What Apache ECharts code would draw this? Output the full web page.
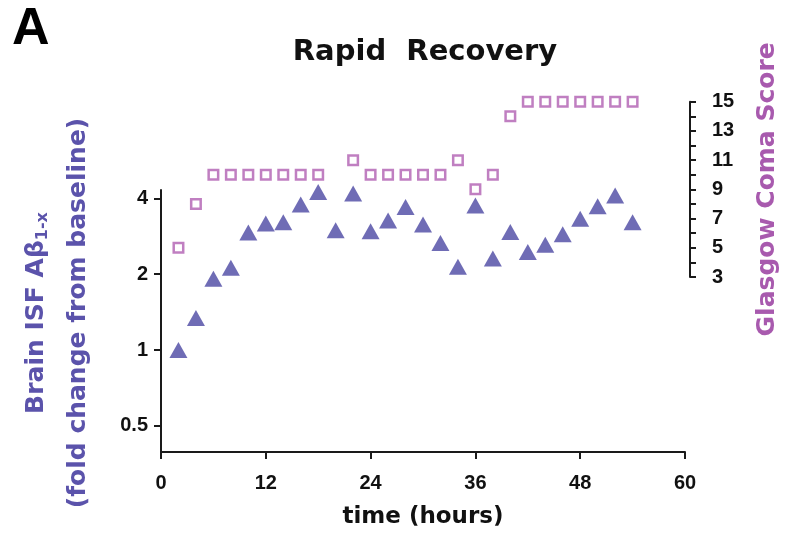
<!DOCTYPE html>
<html>
<head>
<meta charset="utf-8">
<script src="https://cdn.jsdelivr.net/npm/echarts@6/dist/echarts.min.js"></script>
<style>html,body{margin:0;padding:0;background:#fff;}#c{width:785px;height:535px;}</style>
</head>
<body>
<div id="c"></div>
<script>
// time points (hours)
var hours = [2, 4, 6, 8, 10, 12, 14, 16, 18, 20, 22, 24, 26, 28, 30, 32, 34, 36, 38, 40, 42, 44, 46, 48, 50, 52, 54];
// Brain ISF Abeta fold change from baseline
var abeta = [1.00, 1.34, 1.92, 2.12, 2.93, 3.18, 3.22, 3.78, 4.24, 2.99, 4.18, 2.96, 3.27, 3.70, 3.15, 2.66, 2.14, 3.75, 2.31, 2.94, 2.45, 2.62, 2.88, 3.32, 3.72, 4.11, 3.22];
// Glasgow Coma Score (null = not recorded)
var gcs = [5, 8, 10, 10, 10, 10, 10, 10, 10, null, 11, 10, 10, 10, 10, 10, 11, 9, 10, 14, 15, 15, 15, 15, 15, 15, 15];
// tick labels
var xTicks = [0, 12, 24, 36, 48, 60];
var leftTicks = [0.5, 1, 2, 4];
var rightTicks = [3, 5, 7, 9, 11, 13, 15];

var abetaData = hours.map(function (h, i) { return [h, abeta[i]]; });
var gcsData = [];
hours.forEach(function (h, i) { if (gcs[i] !== null) gcsData.push([h, gcs[i]]); });

var axisCol = '#1a1a1a';
var labelFont = {color: '#111', fontFamily: 'Liberation Sans', fontWeight: 'bold', fontSize: 20};

var chart = echarts.init(document.getElementById('c'));
chart.setOption({
  backgroundColor: '#fff',
  animation: false,
  title: {
    text: 'Rapid  Recovery',
    left: 420, top: 33, textAlign: 'center',
    textStyle: {fontFamily: 'DejaVu Sans', fontWeight: 'bold', fontSize: 29, color: '#111'}
  },
  graphic: [{
    type: 'text', left: 12, top: 4,
    style: {text: 'A', fontFamily: 'Liberation Sans', fontWeight: 'bold', fontSize: 52, fill: '#000'}
  }],
  grid: [
    {left: 161, right: 100, top: 190, bottom: 83, containLabel: false, outerBoundsMode: 'none'},
    {left: 161, right: 100, top: 101.7, height: 175.3, containLabel: false, outerBoundsMode: 'none'}
  ],
  xAxis: [{
    gridIndex: 0, type: 'value', min: 0, max: 60, interval: 12,
    name: 'time (hours)', nameLocation: 'middle', nameGap: 54,
    nameTextStyle: {fontFamily: 'DejaVu Sans', fontWeight: 'bold', fontSize: 23, color: '#111'},
    axisLine: {show: true, onZero: false, lineStyle: {color: axisCol, width: 2}},
    axisTick: {show: true, length: 7, lineStyle: {color: axisCol, width: 2}, customValues: xTicks},
    axisLabel: Object.assign({margin: 21, customValues: xTicks}, labelFont),
    splitLine: {show: false}
  }, {
    gridIndex: 1, type: 'value', min: 0, max: 60, show: false
  }],
  yAxis: [{
    gridIndex: 0, type: 'log', logBase: 2, min: 0.3937, max: 4.32,
    name: 'Brain ISF Aβ{sub|1-x}\n(fold change from baseline)',
    nameLocation: 'middle', nameRotate: 90, nameGap: 62,
    nameTextStyle: {
      fontFamily: 'DejaVu Sans', fontWeight: 'bold', fontSize: 25, color: '#5b53ab', lineHeight: 42,
      padding: [0, 0, 0, 16],
      rich: {sub: {fontFamily: 'DejaVu Sans', fontWeight: 'bold', fontSize: 16, color: '#5b53ab', padding: [14, 0, 0, 0]}}
    },
    axisLine: {show: true, onZero: false, lineStyle: {color: axisCol, width: 2}},
    axisTick: {show: true, length: 7, lineStyle: {color: axisCol, width: 2}, customValues: leftTicks},
    axisLabel: Object.assign({margin: 13, customValues: leftTicks}, labelFont),
    splitLine: {show: false}
  }, {
    gridIndex: 1, type: 'value', position: 'right', offset: 5, min: 3, max: 15, interval: 1,
    name: 'Glasgow Coma Score', nameLocation: 'middle', nameRotate: 90, nameGap: 65,
    nameTextStyle: {fontFamily: 'DejaVu Sans', fontWeight: 'bold', fontSize: 25, color: '#a85aae'},
    axisLine: {show: true, onZero: false, lineStyle: {color: axisCol, width: 2}},
    axisTick: {show: true, length: 6, lineStyle: {color: axisCol, width: 2}},
    axisLabel: Object.assign({margin: 22, customValues: rightTicks}, labelFont),
    splitLine: {show: false}
  }],
  series: [{
    type: 'scatter', xAxisIndex: 1, yAxisIndex: 1, data: gcsData, clip: false,
    symbol: 'rect', symbolSize: 9.5,
    itemStyle: {color: '#fff', borderColor: '#b05fb2', borderWidth: 2.5}
  }, {
    type: 'scatter', xAxisIndex: 0, yAxisIndex: 0, data: abetaData, clip: false,
    symbol: 'triangle', symbolSize: [18, 16],
    itemStyle: {color: '#4b47a2'}
  }]
});
</script>
</body>
</html>
